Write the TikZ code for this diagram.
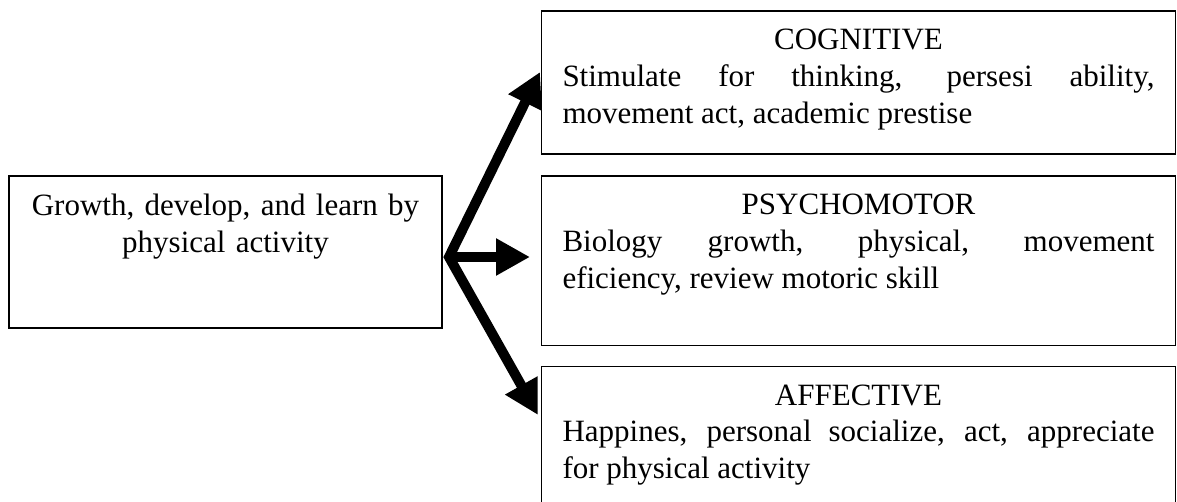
\documentclass[tikz,border=0pt]{standalone}
\usepackage{fontspec}
\setmainfont{Liberation Serif}
\usetikzlibrary{arrows.meta}
\tikzset{
  box/.style={draw, line width=1.6pt, rectangle, outer sep=0pt, inner ysep=0pt,
    anchor=north west, font=\fontsize{31}{36.7}\selectfont},
  catbox/.style={box, text width=592pt, inner xsep=21pt, align=justify},
  headtip/.tip={Triangle[length=34pt,width=35pt]},
  bigarrow/.style={line width=10pt, line join=miter},
}
\newcommand{\cattitle}[1]{{\centering #1\par}}
\begin{document}
\begin{tikzpicture}[x=1pt,y=1pt]
\useasboundingbox (0,0) rectangle (1177,501);
\clip (0,0) rectangle (1177,501);

\node[box, text width=400pt, inner xsep=16.5pt, align=center, text height=40pt, text depth=112pt]
  (L) at (9,325) {Growth, develop, and learn by\\ physical activity};

\node[catbox, text height=39pt, text depth=104pt] (C) at (541.5,490)
  {\cattitle{COGNITIVE}Stimulate for thinking, persesi ability,\linebreak movement act, academic prestise};

\node[catbox, text height=39pt, text depth=130.5pt] (P) at (541.5,325)
  {\cattitle{PSYCHOMOTOR}Biology growth, physical, movement\linebreak eficiency, review motoric skill};

\node[catbox, text height=38.5pt, text depth=150pt] (A) at (541.5,134.5)
  {\cattitle{AFFECTIVE}Happines, personal socialize, act, appreciate\linebreak for physical activity};

\coordinate (hub) at (449,244);
\draw[bigarrow, headtip-headtip] ([xshift=-1.5pt,yshift=10.5pt]C.west) -- (hub)
  -- ([xshift=-3.5pt,yshift=-48.5pt]A.north west);
\draw[bigarrow, -headtip] ([xshift=3pt]hub) -- ([xshift=-11.5pt,yshift=3.75pt]P.west);
\end{tikzpicture}
\end{document}
